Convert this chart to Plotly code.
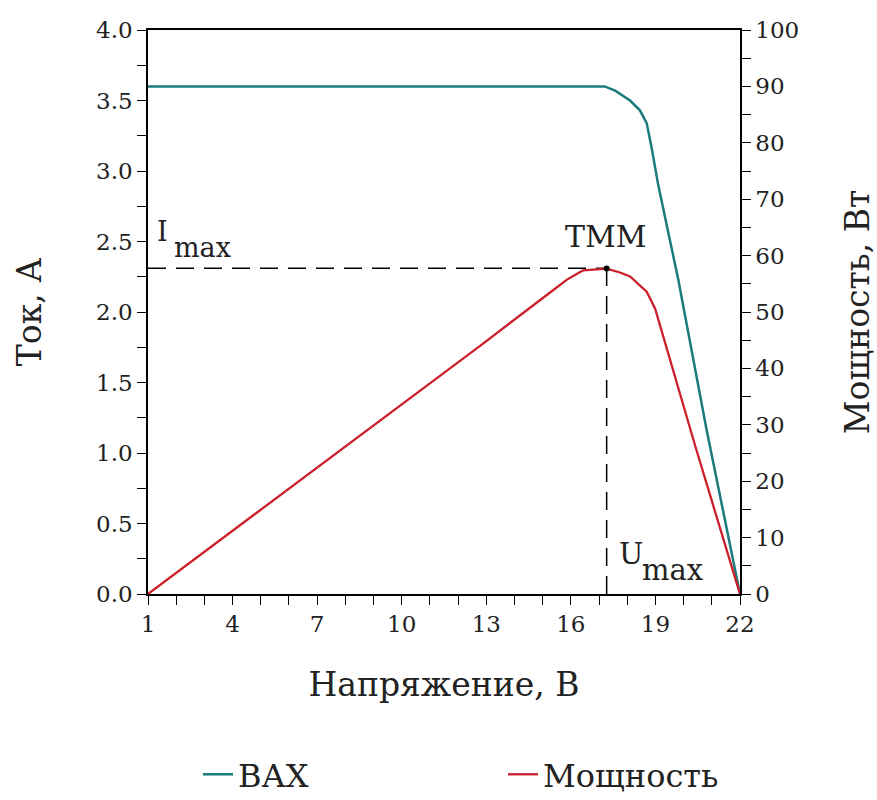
import plotly.graph_objects as go

# ВАХ (current-voltage curve)
v_iv = [1.0, 17.2, 17.57, 18.1, 18.45, 18.69, 18.86, 19.1, 19.81, 20.82, 22.0]
i_iv = [3.60, 3.60, 3.57, 3.50, 3.43, 3.34, 3.17, 2.90, 2.23, 1.16, 0.0]

# Мощность (power curve)
v_pw = [1.0, 9.23, 12.78, 15.38, 15.85, 16.33, 16.44, 17.27, 17.74, 18.1, 18.45, 18.69, 18.99, 20.42, 22.0]
p_pw = [0.0, 30.8, 44.0, 53.9, 55.7, 57.1, 57.4, 57.7, 57.0, 56.3, 54.8, 53.6, 50.6, 26.1, 0.0]

# Maximum power point (ТММ)
u_max = 17.27
i_max = 2.31
p_max = 57.7

x_ticks = [1, 4, 7, 10, 13, 16, 19, 22]
names = ["ВАХ", "Мощность"]

FONT = "DejaVu Serif"
TEAL = "#1c7b7b"
RED = "#cc1f2c"
TXT = "#222"

fig = go.Figure()
fig.add_trace(go.Scatter(x=v_iv, y=i_iv, mode="lines", name=names[0], legend="legend",
                         line=dict(color=TEAL, width=2.5)))
fig.add_trace(go.Scatter(x=v_pw, y=p_pw, mode="lines", name=names[1], yaxis="y2", legend="legend2",
                         line=dict(color=RED, width=2.3)))
# dashed guide lines
fig.add_trace(go.Scatter(x=[x_ticks[0], u_max], y=[i_max, i_max], mode="lines", showlegend=False,
                         line=dict(color="black", width=1.5, dash="18px,10px")))
fig.add_trace(go.Scatter(x=[u_max, u_max], y=[0, i_max], mode="lines", showlegend=False,
                         line=dict(color="black", width=1.5, dash="18px,10px")))
fig.add_trace(go.Scatter(x=[u_max], y=[p_max], mode="markers", showlegend=False, yaxis="y2",
                         marker=dict(color="black", size=6)))

tickfont = dict(family=FONT, size=23, color=TXT)
titlefont = dict(family=FONT, size=33, color=TXT)
minor_common = dict(ticks="outside", ticklen=9, tickcolor="black", tickwidth=1.3)
legfont = dict(family=FONT, size=32, color=TXT)

fig.update_layout(
    width=877, height=800,
    margin=dict(l=148, r=137, t=30, b=206, autoexpand=False),
    paper_bgcolor="white", plot_bgcolor="white",
    font=dict(family=FONT, color=TXT),
    xaxis=dict(range=[1, 22], tickvals=x_ticks, ticks="outside", ticklen=9, tickwidth=1.3,
               tickcolor="black", showline=True, linecolor="black", linewidth=1.5, mirror=True,
               showgrid=False, zeroline=False, tickfont=tickfont, automargin=False,
               minor=dict(dtick=1, tick0=1, **minor_common),
               title=dict(text="Напряжение, В", font=titlefont, standoff=37)),
    yaxis=dict(range=[0, 4], dtick=0.5, tickformat=".1f", ticks="outside", ticklen=9, tickwidth=1.3,
               tickcolor="black", showline=True, linecolor="black", linewidth=1.5,
               showgrid=False, zeroline=False, tickfont=tickfont, automargin=False,
               minor=dict(dtick=0.25, **minor_common),
               title=dict(text="Ток, А", font=titlefont, standoff=45)),
    yaxis2=dict(range=[0, 100], dtick=10, overlaying="y", side="right", ticks="outside", ticklen=9,
                tickwidth=1.3, tickcolor="black", showline=True, linecolor="black", linewidth=1.5,
                showgrid=False, zeroline=False, tickfont=tickfont, automargin=False,
                minor=dict(dtick=5, **minor_common),
                title=dict(text="Мощность, Вт", font=titlefont, standoff=55)),
    legend=dict(orientation="h", x=0.0845, xanchor="left", y=-0.32, yanchor="middle",
                font=legfont),
    legend2=dict(orientation="h", x=0.5997, xanchor="left", y=-0.32, yanchor="middle",
                 font=legfont),
    annotations=[
        dict(x=1.25, y=i_max + 0.14, xref="x", yref="y", text="I", showarrow=False,
             xanchor="left", yanchor="bottom", font=dict(family=FONT, size=27, color=TXT)),
        dict(x=1.85, y=i_max + 0.02, xref="x", yref="y", text="max", showarrow=False,
             xanchor="left", yanchor="bottom", font=dict(family=FONT, size=27, color=TXT)),
        dict(x=u_max - 0.05, y=i_max + 0.09, xref="x", yref="y", text="ТММ", showarrow=False,
             xanchor="center", yanchor="bottom", font=dict(family=FONT, size=30, color=TXT)),
        dict(x=u_max + 0.35, y=0.15, xref="x", yref="y", text="U", showarrow=False,
             xanchor="left", yanchor="bottom", font=dict(family=FONT, size=29, color=TXT)),
        dict(x=u_max + 1.2, y=0.035, xref="x", yref="y", text="max", showarrow=False,
             xanchor="left", yanchor="bottom", font=dict(family=FONT, size=29, color=TXT)),
    ],
)

fig.write_html("out.html")
